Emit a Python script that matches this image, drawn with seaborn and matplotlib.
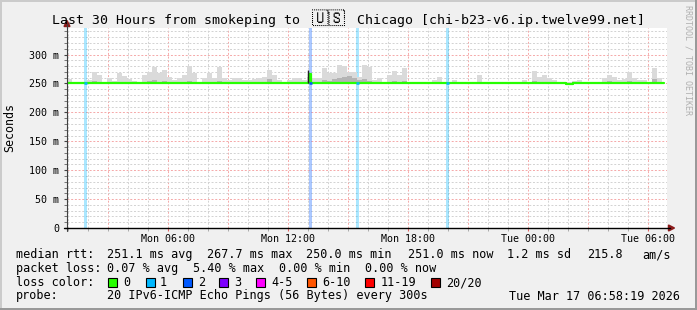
import numpy as np
import pandas as pd
import matplotlib
matplotlib.use("Agg")
import matplotlib.pyplot as plt
import seaborn as sns
from matplotlib.lines import Line2D
from matplotlib.patches import Polygon, Rectangle
from matplotlib import font_manager
from matplotlib.ft2font import FT2Font

# ---------------- data ----------------
title_left = "Last 30 Hours from smokeping to "
title_flag = "\U0001F1FA\U0001F1F8"
title_right = " Chicago [chi-b23-v6.ip.twelve99.net]"
start_time = "2026-03-16 00:58:19"
span_hours = 30
x_tick_times = ["2026-03-16 06:00", "2026-03-16 12:00", "2026-03-16 18:00",
                "2026-03-17 00:00", "2026-03-17 06:00"]
x_tick_labels = ["Mon 06:00", "Mon 12:00", "Mon 18:00", "Tue 00:00", "Tue 06:00"]
y_ticks = [0, 50, 100, 150, 200, 250, 300]
y_tick_labels = ["0", "50 m", "100 m", "150 m", "200 m", "250 m", "300 m"]
y_max = 346

bin_hours = 0.25          # smoke sampled per 15 minutes
data_end_hours = 29.85
smoke_floor = 250.0
smoke_hi = [258, 251, 251, 251, 256, 270, 264, 251, 259, 255,
            268, 263, 258, 255, 252, 264, 270, 279, 268, 274,
            262, 256, 259, 264, 281, 268, 251, 259, 268, 259,
            279, 259, 256, 259, 259, 256, 256, 257, 259, 262,
            274, 265, 256, 251, 256, 259, 259, 256, 262, 259,
            259, 277, 268, 268, 282, 280, 270, 270, 262, 282,
            278, 256, 259, 251, 265, 271, 265, 276, 251, 251,
            251, 251, 251, 256, 262, 251, 251, 256, 251, 251,
            251, 251, 265, 251, 251, 251, 251, 251, 251, 251,
            251, 256, 251, 272, 262, 265, 259, 256, 251, 253,
            253, 255, 256, 251, 251, 251, 253, 259, 265, 262,
            256, 258, 270, 259, 256, 256, 251, 276, 259, 251]
smoke_mid = [251, 251, 251, 251, 251, 254, 252, 251, 251, 251,
             253, 251, 251, 251, 251, 252, 254, 256, 253, 254,
             251, 251, 251, 252, 255, 253, 251, 251, 253, 251,
             255, 251, 251, 251, 251, 251, 251, 251, 251, 252,
             257, 253, 251, 251, 251, 252, 252, 251, 254, 252,
             252, 256, 255, 257, 260, 262, 263, 260, 256, 258,
             255, 251, 251, 251, 253, 254, 252, 254, 251, 251,
             251, 251, 251, 251, 252, 251, 251, 251, 251, 251,
             251, 251, 253, 251, 251, 251, 251, 251, 251, 251,
             251, 251, 251, 255, 252, 253, 252, 251, 251, 251,
             251, 251, 251, 251, 251, 251, 251, 252, 254, 253,
             251, 251, 255, 252, 251, 251, 251, 257, 252, 251]
median_t = [0.0, 12.10, 12.19, 24.95, 25.30]
median_v = [251.0, 266.5, 251.0, 249.6, 251.0]
spike_t = [12.06]
spike_lo = [251.0]
spike_hi = [273.0]
loss_t = [0.87, 12.09, 14.47, 18.97]
loss_n = [1, 2, 1, 1]
loss_labels = ["0", "1", "2", "3", "4-5", "6-10", "11-19", "20/20"]
loss_colors = ["#26ff00", "#00b8ff", "#0059ff", "#7e00ff", "#ff00ff",
               "#ff5500", "#ff0000", "#a10000"]
rtt_values = [251.1, 267.7, 250.0, 251.0]
rtt_names = ["avg", "max", "min", "now"]
rtt_sd = 1.2
rtt_ams = 215.8
loss_values = [0.07, 5.40, 0.00, 0.00]
probe_text = "20 IPv6-ICMP Echo Pings (56 Bytes) every 300s"
stamp_text = "Tue Mar 17 06:58:19 2026"

# ---------------- style ----------------
sns.set_theme(style="white")
plt.rcParams["font.family"] = ["DejaVu Sans Mono", "DejaVu Sans"]


def family_with(chars):
    cps = [ord(c) for c in chars]
    for f in font_manager.fontManager.ttflist:
        try:
            cmap = FT2Font(f.fname).get_charmap()
        except Exception:
            continue
        if all(cp in cmap for cp in cps):
            return f.name
    return None


flag_family = family_with(title_flag)

W, H = 697, 310
def fx(p): return p / W
def fy(p): return 1 - p / H

BG = "#f0f0f0"
fig = plt.figure(figsize=(W / 100, H / 100), dpi=100, facecolor=BG)
L, R, T, B = 67, 667, 28, 228
ax = fig.add_axes([fx(L), fy(B), (R - L) / W, (B - T) / H])
ax.set_facecolor("white")
ax.set_xlim(0, span_hours)
ax.set_ylim(0, y_max)
for s in ax.spines.values():
    s.set_visible(False)

t0 = pd.Timestamp(start_time)
def hrs(ts):
    return (pd.Timestamp(ts) - t0) / pd.Timedelta(hours=1)

# grid
first_hour = t0.ceil("h")
hour_stamps = [first_hour + pd.Timedelta(hours=k) for k in range(span_hours + 1)]
hour_stamps = [h for h in hour_stamps if hrs(h) < span_hours]
GRID = "#d2d2d2"
MGRID = "#f5a8a8"
for h in hour_stamps:
    major = (h.hour % 3 == 0)
    ax.axvline(hrs(h), color=MGRID if major else GRID, lw=0.7,
               linestyle=(0, (2, 1.8)), zorder=0.5)
for v in range(10, y_max, 10):
    major = (v % 50 == 0)
    ax.axhline(v, color=MGRID if major else GRID, lw=0.7,
               linestyle=(0, (2, 1.8)), zorder=0.5)

# loss background bands
band_w = 0.14
for t, n in zip(loss_t, loss_n):
    ax.axvspan(t, t + band_w, color=loss_colors[n], alpha=0.33, lw=0, zorder=1)

# smoke
edges = np.arange(len(smoke_hi) + 1) * bin_hours
edges[-1] = min(edges[-1], data_end_hours)
ax.fill_between(edges, smoke_floor, np.append(smoke_hi, smoke_hi[-1]),
                step="post", color="#dadada", lw=0, zorder=2)
ax.fill_between(edges, smoke_floor, np.append(smoke_mid, smoke_mid[-1]),
                step="post", color="#b4b4b4", lw=0, zorder=2.1)

# median line
med_df = pd.DataFrame({"t": median_t + [data_end_hours],
                       "v": median_v + [median_v[-1]]})
sns.lineplot(data=med_df, x="t", y="v", drawstyle="steps-post", color="#26ff00",
             lw=1.6, ax=ax, zorder=4, estimator=None, sort=False)
ax.vlines(spike_t, spike_lo, spike_hi, colors="#202020", lw=1.0, zorder=4.5)
for t, n in zip(loss_t, loss_n):
    idx = np.searchsorted(median_t, t, side="right") - 1
    ax.hlines(median_v[idx], t, t + band_w, colors=loss_colors[n], lw=1.8, zorder=5)

ax.set_xlabel("")
ax.set_ylabel("")

# ticks
ax.set_xticks([hrs(t) for t in x_tick_times], labels=x_tick_labels)
ax.set_xticks([hrs(h) for h in hour_stamps], minor=True)
ax.set_yticks(y_ticks, labels=y_tick_labels)
ax.set_yticks(list(range(10, y_max, 10)), minor=True)
ax.tick_params(axis="x", which="major", length=2.5, width=0.8, color="#e06060",
               pad=1.5, labelsize=7.2, labelcolor="black", direction="out",
               bottom=True)
ax.tick_params(axis="x", which="minor", length=2, width=0.7, color="#aaaaaa",
               direction="out", bottom=True)
ax.tick_params(axis="y", which="major", length=2.5, width=0.8, color="#444444",
               pad=3.0, labelsize=7.2, labelcolor="black", direction="out",
               left=True)
ax.tick_params(axis="y", which="minor", length=2, width=0.7, color="#777777",
               direction="out", left=True)

# axis lines with arrows
ARROW = "#8b1a1a"
fig.add_artist(Line2D([fx(67), fx(67)], [fy(231), fy(24)], color="#404040", lw=0.8))
fig.add_artist(Line2D([fx(64), fx(670)], [fy(228), fy(228)], color="black", lw=1.0))
fig.add_artist(Polygon([[fx(64), fy(26.5)], [fx(70), fy(26.5)], [fx(67), fy(20.5)]],
                       closed=True, color=ARROW, transform=fig.transFigure))
fig.add_artist(Polygon([[fx(668.5), fy(225)], [fx(668.5), fy(231)], [fx(674.5), fy(228)]],
                       closed=True, color=ARROW, transform=fig.transFigure))

# frame shading
fig.add_artist(Rectangle((0, fy(2)), 1, 2 / H, transform=fig.transFigure,
                         color="#cbcbcb", lw=0))
fig.add_artist(Rectangle((0, 0), 2 / W, 1, transform=fig.transFigure,
                         color="#cbcbcb", lw=0))
fig.add_artist(Rectangle((0, 0), 1, 2 / H, transform=fig.transFigure,
                         color="#999999", lw=0))
fig.add_artist(Rectangle((fx(695), 0), 2 / W, 1, transform=fig.transFigure,
                         color="#999999", lw=0))

# title (three parts so the layout matches the reference)
TFS = 9.5
fig.text(fx(52), fy(24), title_left, ha="left", va="baseline",
         fontsize=TFS, color="black")
if flag_family is not None:
    fig.text(fx(329), fy(24), title_flag, ha="center", va="baseline",
             fontsize=TFS * 1.25, color="black",
             family=[flag_family, "DejaVu Sans Mono"])
else:
    for k, ch in enumerate(title_flag):
        bx = 310 + k * 20
        fig.add_artist(Rectangle((fx(bx), fy(26.5)), 17.5 / W, 13.5 / H,
                                 transform=fig.transFigure, fill=False,
                                 edgecolor="black", lw=0.9))
        code = f"{ord(ch):06X}"
        fig.text(fx(bx + 8.75), fy(19.2), code[:3], ha="center", va="baseline",
                 fontsize=4.2, color="black")
        fig.text(fx(bx + 8.75), fy(25.0), code[3:], ha="center", va="baseline",
                 fontsize=4.2, color="black")
fig.text(fx(349), fy(24), title_right, ha="left", va="baseline",
         fontsize=TFS, color="black")

fig.text(fx(10), fy(128), "Seconds", rotation=90, ha="center", va="center",
         fontsize=8.4, color="black")
fig.text(fx(688), fy(5), "RRDTOOL / TOBI OETIKER", rotation=270, ha="center",
         va="top", fontsize=6, color="#b0b0b0")

# legend / stats rows
FS = 8.5
def put(x, y, s, ha="left"):
    fig.text(fx(x), fy(y), s, ha=ha, va="baseline", fontsize=FS, color="black")

row1 = 258
put(16, row1, "median rtt:")
for x, v, nm in zip([107, 207, 306, 408], rtt_values, rtt_names):
    put(x, row1, f"{v:.1f} ms {nm}")
put(507, row1, f"{rtt_sd:.1f} ms sd")
put(587, row1, f"{rtt_ams:.1f}")
put(642, row1, "am/s")

row2 = 272
put(16, row2, "packet loss:")
for x, v, nm in zip([107, 193, 279, 365], loss_values, rtt_names):
    put(x, row2, f"{v:.2f} % {nm}")

row3 = 286
put(16, row3, "loss color:")
sq_x = [108, 146, 183, 219, 256, 307, 365, 431]
lab_x = [123, 160, 198, 234, 271, 322, 381, 446]
for sx, lx, lab, col in zip(sq_x, lab_x, loss_labels, loss_colors):
    fig.add_artist(Rectangle((fx(sx), fy(287)), 9 / W, 9 / H,
                             transform=fig.transFigure, facecolor=col,
                             edgecolor="black", lw=0.8))
    put(lx, row3, lab)

row4 = 299.5
put(16, row4, "probe:")
put(107, row4, probe_text)
put(680, row4, stamp_text, ha="right")

fig.savefig("out.png", dpi=100, facecolor=BG)
